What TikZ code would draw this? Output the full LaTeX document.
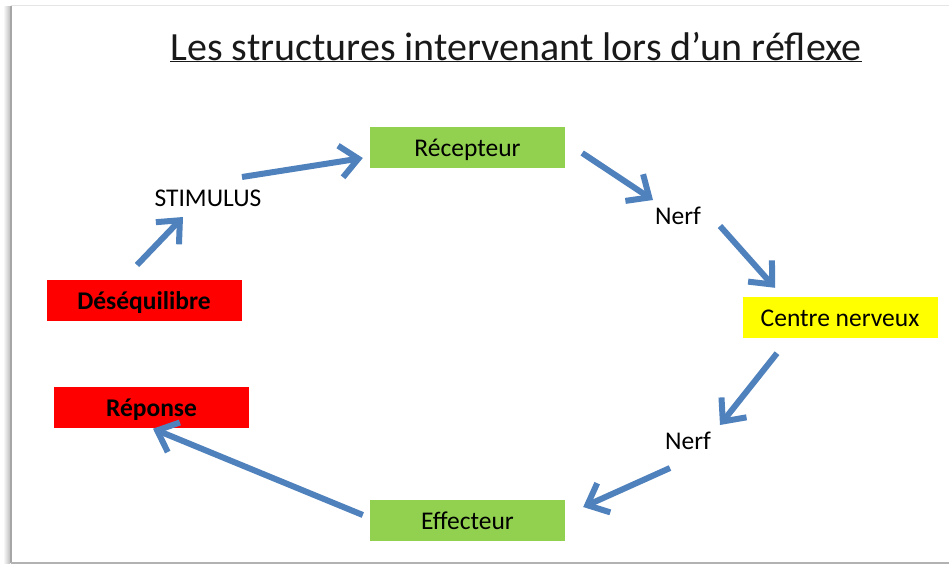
\documentclass[tikz,border=0pt]{standalone}
\usepackage{fontspec}
\setmainfont{Carlito}
\usetikzlibrary{arrows.meta}
\definecolor{arrblue}{HTML}{4F81BD}
\definecolor{boxgreen}{HTML}{92D050}
\definecolor{boxyellow}{HTML}{FFFF00}
\definecolor{boxred}{HTML}{FF0000}
\tikzset{
  arr/.style={draw=arrblue, line width=6pt,
    -{Straight Barb[length=18pt,width=32pt,line width=6pt]}},
  box/.style={minimum width=195pt, minimum height=41pt, inner sep=0pt,
    text height=19pt, text depth=1pt,
    font=\fontsize{25.5}{30}\selectfont, text=black},
  greenbox/.style={box, fill=boxgreen},
  redbox/.style={box, fill=boxred, font=\fontsize{25.5}{30}\selectfont\bfseries},
  yellowbox/.style={box, fill=boxyellow},
  plain/.style={inner sep=0pt, text height=19pt, text depth=1pt,
    font=\fontsize{25.5}{30}\selectfont, text=black}
}
\begin{document}
\begin{tikzpicture}[x=1pt,y=-1pt]
\useasboundingbox (0,0) rectangle (949,565);
\fill[white] (0,0) rectangle (949,565);
% slide frame
\shade[left color=white, right color=black!25] (3,6) rectangle (10,563);
\draw[black!35, line width=2pt] (11,6) -- (11,563);
\draw[black!30, line width=1.5pt] (11,563) -- (949,563);
\draw[black!10, line width=1pt] (11,5) -- (949,5);
% title
\node[inner sep=0pt, anchor=base, font=\fontsize{40}{44}\selectfont, text=black!90]
  (title) at (516,60) {\underline{Les structures intervenant lors d’un réflexe}};
% nodes
\node[greenbox] (rec) at (467.5,147) {Récepteur};
\node[plain] (stim) at (208,197) {STIMULUS};
\node[redbox] (deseq) at (144,300.5) {Déséquilibre};
\node[redbox] (rep) at (151.5,407) {Réponse};
\node[plain] (nerfA) at (678,215) {Nerf};
\node[yellowbox] (centre) at (840,317.5) {Centre nerveux};
\node[plain] (nerfB) at (688,440) {Nerf};
\node[greenbox] (eff) at (467.5,520.5) {Effecteur};
% arrows
\draw[arr] ([shift={(-7,-35.5)}]deseq.center) -- ([shift={(-25,20)}]stim.center);
\draw[arr] ([shift={(34,-20)}]stim.center) -- ([shift={(-7,11)}]rec.west);
\draw[arr] ([shift={(17,6)}]rec.east) -- ([shift={(-25,-15)}]nerfA.center);
\draw[arr] ([shift={(42,11)}]nerfA.center) -- ([shift={(-65,-9)}]centre.north);
\draw[arr] ([shift={(-63,15)}]centre.south) -- ([shift={(32,-15)}]nerfB.center);
\draw[arr] ([shift={(-18,28)}]nerfB.center) -- ([shift={(18,-13.5)}]eff.east);
\draw[arr] ([shift={(-7,-5.5)}]eff.west) -- ([shift={(1.5,1)}]rep.south);
\end{tikzpicture}
\end{document}
